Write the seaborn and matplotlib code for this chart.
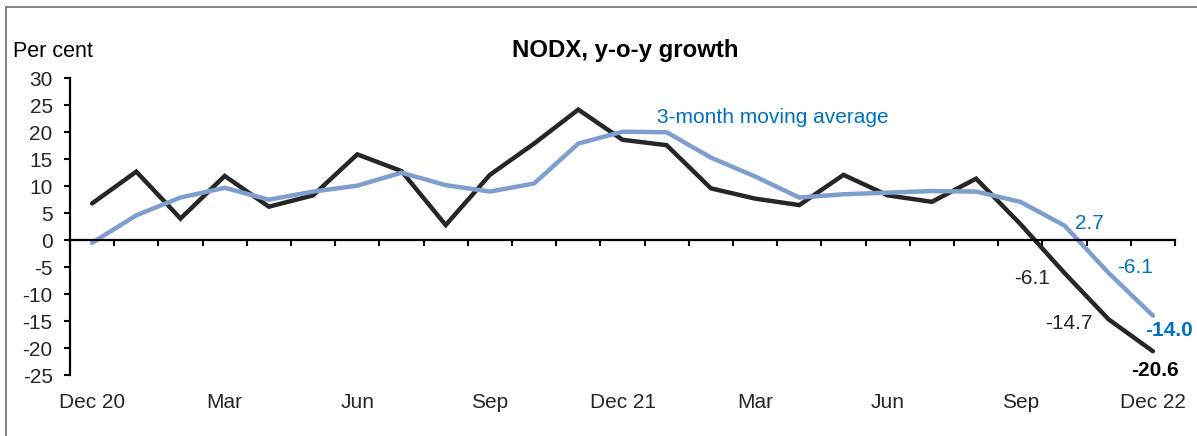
import numpy as np
import pandas as pd
import matplotlib
matplotlib.use("Agg")
import matplotlib.pyplot as plt
from matplotlib.lines import Line2D
import seaborn as sns

# ---- data ----
months = ["Dec 20", "Jan", "Feb", "Mar", "Apr", "May", "Jun", "Jul", "Aug", "Sep", "Oct", "Nov",
          "Dec 21", "Jan", "Feb", "Mar", "Apr", "May", "Jun", "Jul", "Aug", "Sep", "Oct", "Nov", "Dec 22"]
nodx_yoy = [6.8, 12.7, 4.0, 11.9, 6.2, 8.3, 15.9, 12.8, 2.8, 12.1, 17.9, 24.2,
            18.6, 17.6, 9.6, 7.7, 6.5, 12.1, 8.3, 7.1, 11.4, 3.0, -6.1, -14.7, -20.6]
nodx_3mma = [-0.5, 4.6, 7.9, 9.7, 7.5, 9.0, 10.1, 12.5, 10.2, 9.0, 10.5, 17.9,
             20.1, 20.0, 15.3, 11.8, 7.9, 8.5, 8.8, 9.1, 9.0, 7.1, 2.7, -6.1, -14.0]
tick_labels = ["Dec 20", "Mar", "Jun", "Sep", "Dec 21", "Mar", "Jun", "Sep", "Dec 22"]

df = pd.DataFrame({"idx": np.arange(len(months)), "yoy": nodx_yoy, "mma": nodx_3mma})

sns.set_style("white")
plt.rcParams["font.family"] = ["Liberation Sans", "DejaVu Sans"]
plt.rcParams["axes.unicode_minus"] = False

W, H = 1197, 436
fig = plt.figure(figsize=(W / 100, H / 100), dpi=100)
ax = fig.add_axes([70 / W, 1 - 375 / H, 1105 / W, (375 - 78.3) / H])

BLACK = "#262626"
LBLUE = "#7E9ECF"
TBLUE = "#0070C0"

sns.lineplot(data=df, x="idx", y="yoy", ax=ax, color=BLACK, lw=3.2, solid_joinstyle="miter")
sns.lineplot(data=df, x="idx", y="mma", ax=ax, color=LBLUE, lw=3.2, solid_joinstyle="miter")

ax.set_xlim(-0.5, 24.5)
ax.set_ylim(-25, 30)
ax.set_yticks(np.arange(-25, 31, 5))
ax.set_xlabel("")
ax.set_ylabel("")

for s in ["top", "right"]:
    ax.spines[s].set_visible(False)
ax.spines["bottom"].set_position(("data", 0))
for s in ["bottom", "left"]:
    ax.spines[s].set_color("black")
    ax.spines[s].set_linewidth(1.6)

ax.set_xticks(np.arange(-0.5, 24.6, 1))
ax.set_xticklabels([])
ax.tick_params(axis="x", direction="out", length=4.5, width=1.5, color="black", bottom=True)
ax.tick_params(axis="y", direction="out", length=4.5, width=1.5, color="black", left=True,
               labelsize=15, pad=8)

sec = ax.secondary_xaxis("bottom")
sec.set_xticks(np.arange(0, 25, 3))
sec.set_xticklabels(tick_labels)
sec.tick_params(length=0, labelsize=15, pad=13)
sec.spines["bottom"].set_visible(False)

# labels
def lab(i, v, txt, dx, dy, color, bold=False, ha="left"):
    ax.annotate(txt, xy=(i, v), xytext=(dx, dy), textcoords="offset pixels",
                ha=ha, va="baseline", fontsize=15, color=color,
                fontweight="bold" if bold else "normal")

lab(22, nodx_yoy[22], "-6.1", -14.5, -11.4, BLACK, ha="right")
lab(23, nodx_yoy[23], "-14.7", -15.7, -10, BLACK, ha="right")
lab(24, nodx_yoy[24], "-20.6", 1.6, -24.7, "black", bold=True, ha="center")
lab(22, nodx_3mma[22], "2.7", 10.5, -3.9, TBLUE)
lab(23, nodx_3mma[23], "-6.1", 8, 0, TBLUE)
lab(24, nodx_3mma[24], "-14.0", -8, -20.2, TBLUE, bold=True)
lab(13, nodx_3mma[13], "3-month moving average", -9.7, 9.5, TBLUE)

fig.text(625 / W, 1 - 56.7 / H, "NODX, y-o-y growth", ha="center", va="baseline",
         fontsize=17.3, fontweight="bold", color="black")
fig.text(13 / W, 1 - 56.7 / H, "Per cent", ha="left", va="baseline", fontsize=15.5, color="black")

# frame
fig.add_artist(Line2D([6 / W, 1], [1 - 7.5 / H, 1 - 7.5 / H], transform=fig.transFigure,
                      color="#7a7a7a", lw=1.3))
fig.add_artist(Line2D([6 / W, 6 / W], [0, 1 - 7.5 / H], transform=fig.transFigure,
                      color="#7a7a7a", lw=1.3))

fig.savefig("out.png", dpi=100)
